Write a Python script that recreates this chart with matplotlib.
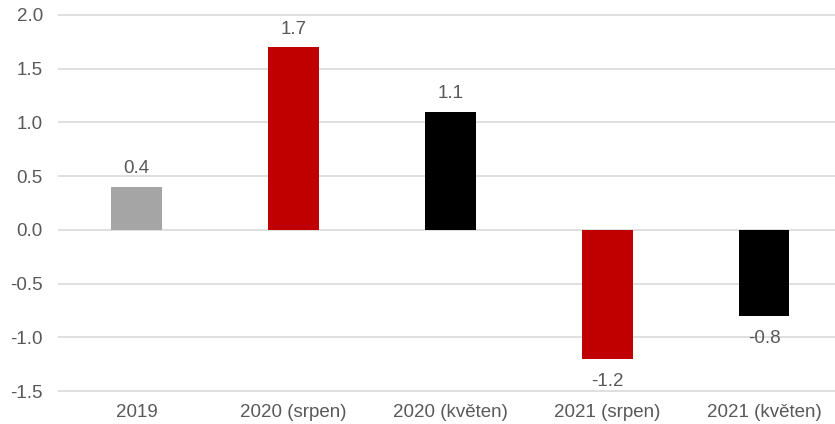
import matplotlib.pyplot as plt

plt.rcParams["font.family"] = ["Liberation Sans", "DejaVu Sans"]

categories = ["2019", "2020 (srpen)", "2020 (květen)", "2021 (srpen)", "2021 (květen)"]
values = [0.4, 1.7, 1.1, -1.2, -0.8]
colors = ["#a5a5a5", "#c00000", "#000000", "#c00000", "#000000"]

text_color = "#595959"
grid_color = "#d9d9d9"
font_size = 13.5

fig = plt.figure(figsize=(8.35, 4.24), dpi=100)
ax = fig.add_axes([0.0695, 0.0765, 0.9305, 0.8894])

x = range(len(categories))
ax.bar(x, values, width=0.32, color=colors, zorder=3)

for xi, v in zip(x, values):
    if v >= 0:
        ax.annotate(f"{v:.1f}", (xi, v), xytext=(0, 7), textcoords="offset points",
                    ha="center", va="bottom", fontsize=font_size, color=text_color)
    else:
        ax.annotate(f"{v:.1f}", (xi, v), xytext=(0, -10), textcoords="offset points",
                    ha="center", va="top", fontsize=font_size, color=text_color)

ax.set_ylim(-1.505, 2.005)
ax.set_yticks([-1.5, -1.0, -0.5, 0.0, 0.5, 1.0, 1.5, 2.0])
ax.set_yticklabels([f"{t:.1f}" for t in ax.get_yticks()])
ax.set_xlim(-0.5, 4.45)
ax.set_xticks(list(x))
ax.set_xticklabels(categories)

ax.yaxis.grid(True, color=grid_color, linewidth=1.2, zorder=0)
for spine in ax.spines.values():
    spine.set_visible(False)
ax.tick_params(axis="both", length=0, labelsize=font_size, labelcolor=text_color)
ax.tick_params(axis="y", pad=11)
ax.tick_params(axis="x", pad=9)

fig.savefig("out.png", dpi=100)
